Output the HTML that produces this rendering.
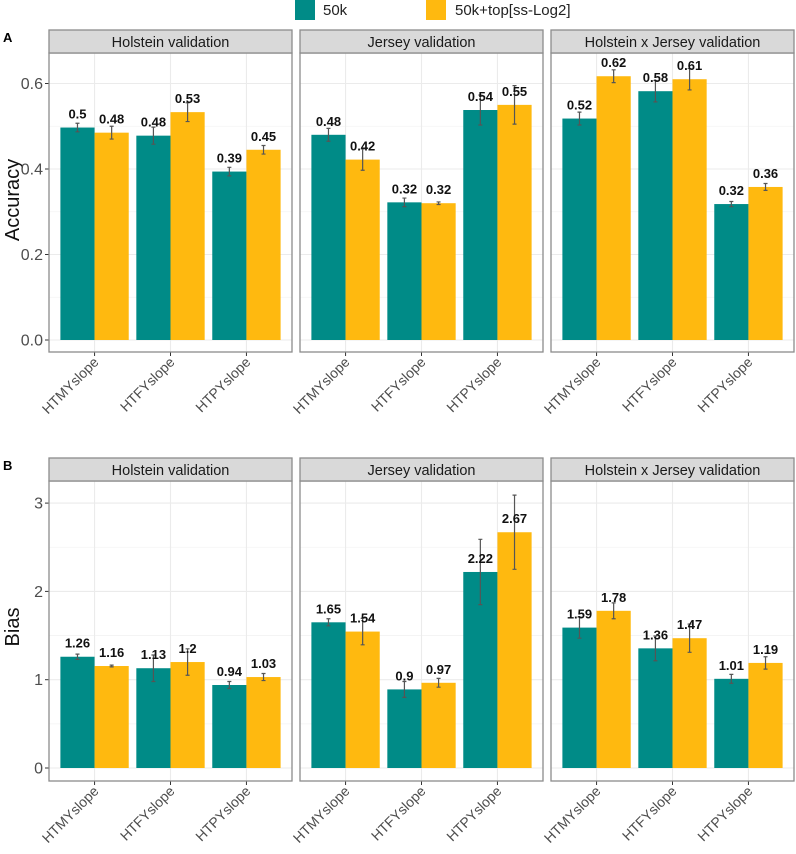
<!DOCTYPE html>
<html><head><meta charset="utf-8"><style>
body{margin:0;background:#fff}
svg{display:block;font-family:"Liberation Sans",sans-serif}
</style></head><body>
<svg id="c" width="796" height="854" xmlns="http://www.w3.org/2000/svg"></svg>
<script>
const categories = ["HTMYslope","HTFYslope","HTPYslope"];
const facets = ["Holstein validation","Jersey validation","Holstein x Jersey validation"];
const seriesNames = ["50k","50k+top[ss-Log2]"];
// Accuracy: [facet][category]
const accTeal = [[0.497,0.478,0.394],[0.48,0.322,0.538],[0.518,0.582,0.318]];
const accOrange = [[0.485,0.533,0.445],[0.422,0.32,0.55],[0.617,0.61,0.358]];
const accTealErr = [[0.01,0.02,0.01],[0.015,0.01,0.035],[0.015,0.025,0.006]];
const accOrangeErr = [[0.015,0.022,0.01],[0.025,0.003,0.045],[0.015,0.025,0.008]];
const accTealLbl = [["0.5","0.48","0.39"],["0.48","0.32","0.54"],["0.52","0.58","0.32"]];
const accOrangeLbl = [["0.48","0.53","0.45"],["0.42","0.32","0.55"],["0.62","0.61","0.36"]];
const accTicks = [0,0.2,0.4,0.6];
const accTickLabels = ["0.0","0.2","0.4","0.6"];
// Bias
const biasTeal = [[1.26,1.13,0.94],[1.65,0.89,2.22],[1.59,1.355,1.01]];
const biasOrange = [[1.155,1.2,1.03],[1.545,0.965,2.67],[1.78,1.47,1.19]];
const biasTealErr = [[0.03,0.15,0.04],[0.04,0.09,0.37],[0.12,0.14,0.05]];
const biasOrangeErr = [[0.01,0.15,0.04],[0.15,0.05,0.42],[0.09,0.16,0.07]];
const biasTealLbl = [["1.26","1.13","0.94"],["1.65","0.9","2.22"],["1.59","1.36","1.01"]];
const biasOrangeLbl = [["1.16","1.2","1.03"],["1.54","0.97","2.67"],["1.78","1.47","1.19"]];
const biasTicks = [0,1,2,3];
const biasTickLabels = ["0","1","2","3"];

const svg=document.getElementById('c');
const NS="http://www.w3.org/2000/svg";
function mk(tag,attrs,parent){const e=document.createElementNS(NS,tag);for(const k in attrs)e.setAttribute(k,attrs[k]);(parent||svg).appendChild(e);return e;}
const TEAL="#008b87",ORANGE="#ffb90f";

// legend
let lg=mk('g',{});


let r1=mk('rect',{x:295,y:0,width:20,height:20,fill:TEAL},lg);


let t1=mk('text',{x:323,y:15,'font-size':15,fill:'#222'},lg);
t1.textContent=seriesNames[0];


let r2=mk('rect',{x:426,y:0,width:20,height:20,fill:ORANGE},lg);


let t2=mk('text',{x:455,y:15,'font-size':15,fill:'#222'},lg);
t2.textContent=seriesNames[1];



const panelX=[49,300,551], panelW=243;

function drawRow(o){
  const {tag,title,stripTop,plotTop,plotBot,y0,pxPerUnit,ticks,tickLabels,minor,teal,orange,tErr,oErr,tLbl,oLbl,titleY}=o;
  const y=v=>y0-v*pxPerUnit;
  let L=mk('text',{x:3,y:stripTop+12,'font-size':13,'font-weight':'bold',fill:'#000'});L.textContent=tag;
  
  
  let yt=mk('text',{x:0,y:0,'font-size':20,fill:'#111','text-anchor':'middle',transform:`translate(19,${titleY}) rotate(-90)`});yt.textContent=title;
  
  
  ticks.forEach((t,i)=>{
    let tx=mk('text',{x:43,y:y(t)+5.5,'font-size':16,fill:'#4d4d4d','text-anchor':'end'});tx.textContent=tickLabels[i];
    
    
    mk('line',{x1:45,x2:49,y1:y(t),y2:y(t),stroke:'#333','stroke-width':1});
  });
  facets.forEach((f,fi)=>{
    const px=panelX[fi];
    const g=mk('g',{});
    
    
    mk('rect',{x:px,y:plotTop,width:panelW,height:plotBot-plotTop,fill:'#fff'},g);
    minor.forEach(t=>mk('line',{x1:px,x2:px+panelW,y1:y(t),y2:y(t),stroke:'#f3f3f3','stroke-width':0.8},g));
    ticks.forEach(t=>mk('line',{x1:px,x2:px+panelW,y1:y(t),y2:y(t),stroke:'#ebebeb','stroke-width':1.1},g));
    const step=panelW/3.2, cx=i=>px+step*(0.6+i), bw=step*0.45;
    categories.forEach((c,ci)=>mk('line',{x1:cx(ci),x2:cx(ci),y1:plotTop,y2:plotBot,stroke:'#ebebeb','stroke-width':1.1},g));
    categories.forEach((c,ci)=>{
      [[teal,tErr,tLbl,TEAL,-1,'teal'],[orange,oErr,oLbl,ORANGE,0,'orange']].forEach(([vals,errs,lbls,col,off,nm])=>{
        const v=vals[fi][ci], e=errs[fi][ci], x=cx(ci)+off*bw;
        const b=mk('rect',{x:x,y:y(v),width:bw,height:y(0)-y(v),fill:col},g);
        
        
        const lx=x+bw/2;
        const eb=mk('path',{d:`M${lx-2},${y(v+e)}H${lx+2}M${lx},${y(v+e)}V${y(v-e)}M${lx-2},${y(v-e)}H${lx+2}`,stroke:'#555','stroke-width':1.2,fill:'none'},g);
        
        
        const lt=mk('text',{x:lx,y:y(v)-9,'font-size':13,'font-weight':'bold',fill:'#111','text-anchor':'middle'},g);
        lt.textContent=lbls[fi][ci];
        
        
      });
      mk('line',{x1:cx(ci),x2:cx(ci),y1:plotBot,y2:plotBot+4,stroke:'#333'},g);
      const xl=mk('text',{x:0,y:0,'font-size':14,fill:'#4d4d4d','text-anchor':'end',transform:`translate(${cx(ci)+5},${plotBot+11}) rotate(-45)`},g);
      xl.textContent=c;
      
      
    });
    mk('rect',{x:px,y:plotTop,width:panelW,height:plotBot-plotTop,fill:'none',stroke:'#8c8c8c','stroke-width':1.3},g);
    const st=mk('rect',{x:px,y:stripTop,width:panelW,height:plotTop-stripTop,fill:'#d9d9d9',stroke:'#8c8c8c','stroke-width':1.3},g);
    
    
    const stt=mk('text',{x:px+panelW/2,y:stripTop+17,'font-size':14.5,fill:'#1a1a1a','text-anchor':'middle'},g);
    stt.textContent=f;
    
    
  });
}
drawRow({tag:'A',title:'Accuracy',stripTop:30,plotTop:53,plotBot:352,y0:340,pxPerUnit:427.5,ticks:accTicks,tickLabels:accTickLabels,minor:[0.1,0.3,0.5],teal:accTeal,orange:accOrange,tErr:accTealErr,oErr:accOrangeErr,tLbl:accTealLbl,oLbl:accOrangeLbl,titleY:200});
drawRow({tag:'B',title:'Bias',stripTop:458,plotTop:481,plotBot:781,y0:768,pxPerUnit:88.3,ticks:biasTicks,tickLabels:biasTickLabels,minor:[0.5,1.5,2.5],teal:biasTeal,orange:biasOrange,tErr:biasTealErr,oErr:biasOrangeErr,tLbl:biasTealLbl,oLbl:biasOrangeLbl,titleY:627});
</script>
</body></html>
